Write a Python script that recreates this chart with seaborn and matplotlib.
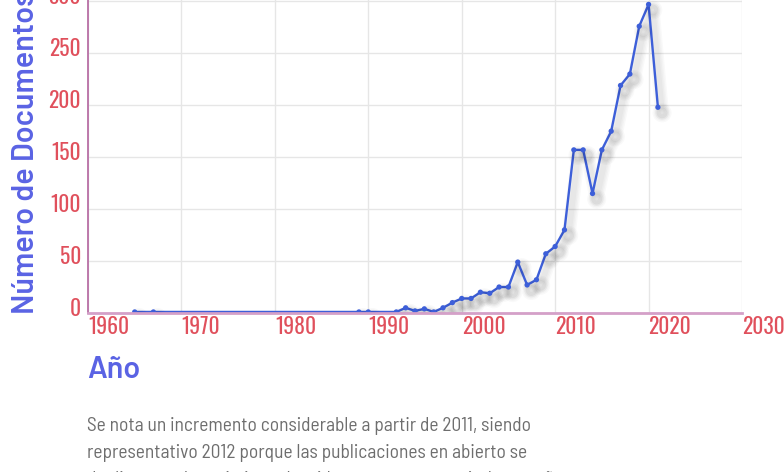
import matplotlib
matplotlib.use('Agg')
import matplotlib.pyplot as plt
import matplotlib.patheffects as pe
from matplotlib.transforms import ScaledTranslation
import seaborn as sns
import pandas as pd

# Datos
anios = [1965, 1967, 1989, 1990, 1993, 1994, 1995, 1996, 1997, 1998, 1999, 2000,
         2001, 2002, 2003, 2004, 2005, 2006, 2007, 2008, 2009, 2010, 2011, 2012,
         2013, 2014, 2015, 2016, 2017, 2018, 2019, 2020, 2021]
documentos = [1, 1, 1, 1, 1, 5, 2, 4, 1, 5, 10, 14,
              14, 20, 19, 25, 25, 49, 27, 32, 57, 64, 80, 157,
              157, 115, 157, 175, 219, 230, 276, 297, 198]
x_ticks = [1960, 1970, 1980, 1990, 2000, 2010, 2020, 2030]
y_ticks = [0, 50, 100, 150, 200, 250, 300]
nota = ["Se nota un incremento considerable a partir de 2011, siendo",
        "representativo 2012 porque las publicaciones en abierto se",
        "duplicaron, el crecimiento ha sido constante a partir de ese año."]

df = pd.DataFrame({'Año': anios, 'Documentos': documentos})

sns.set_style('white')
W, H = 784, 472
fig = plt.figure(figsize=(W / 100, H / 100), dpi=100)
# eje: x 88..742 px, y=0 en 313 px, 1.039 px por unidad
ymax = 320
ax = fig.add_axes([88 / W, (H - 313) / H, (742 - 88) / W, ymax * 1.039 / H])

azul = '#3d5fd9'
rojo = '#e0505c'
sombra = [pe.SimpleLineShadow(offset=(3, -4), shadow_color='black', alpha=0.025, linewidth=w)
          for w in (10, 8, 6, 4)]
sns.lineplot(data=df, x='Año', y='Documentos', ax=ax, color=azul, lw=1.7,
             marker='o', markersize=3.8, markeredgewidth=0,
             path_effects=sombra + [pe.Normal()])

ax.set_xlim(1960, 2030)
ax.set_ylim(0, ymax)
ax.set_xticks(x_ticks)
ax.set_yticks(y_ticks)
ax.grid(True, color='#e6e6e6', lw=1)
ax.set_xlabel('')
ax.set_ylabel('')

for s in ['top', 'right']:
    ax.spines[s].set_visible(False)
ax.spines['left'].set_color('#b86fa5')
ax.spines['left'].set_linewidth(1.3)
ax.spines['bottom'].set_color('#d4a0c8')
ax.spines['bottom'].set_linewidth(2)

fuente_ticks = ['Oswald', 'Barlow Condensed', 'DejaVu Sans']
ax.tick_params(axis='both', length=0, labelcolor=rojo, labelsize=15.5)
ax.tick_params(axis='x', pad=2)
ax.tick_params(axis='y', pad=5)
for lab in ax.get_xticklabels():
    lab.set_fontfamily(fuente_ticks)
    lab.set_fontweight('medium')
    lab.set_ha('left')
for lab in ax.get_yticklabels():
    lab.set_fontfamily(fuente_ticks)
    lab.set_fontweight('medium')
    lab.set_transform(lab.get_transform() + ScaledTranslation(0, 6 / 100, fig.dpi_scale_trans))

azul_txt = '#5a63e4'
fuente_txt = ['Barlow', 'DejaVu Sans']
fig.text(26 / W, (H - 314) / H, 'Número de Documentos', rotation=90, ha='center', va='bottom',
         color=azul_txt, fontsize=22, fontweight='semibold', family=fuente_txt)
fig.text(87 / W, (H - 378) / H, 'Año', ha='left', va='baseline',
         color=azul_txt, fontsize=22, fontweight='semibold', family=fuente_txt)
for i, linea in enumerate(nota):
    fig.text(87 / W, (H - 431 - 27 * i) / H, linea, ha='left', va='baseline', color='#6e6e6e',
             fontsize=14, family=['Barlow Semi Condensed', 'Barlow', 'DejaVu Sans'])

fig.savefig('out.png', dpi=100)
